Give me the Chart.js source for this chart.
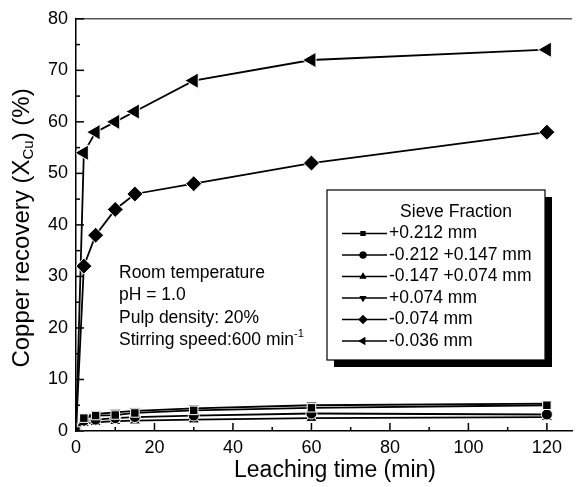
<!DOCTYPE html>
<html>
<head>
<meta charset="utf-8">
<script src="https://cdn.jsdelivr.net/npm/chart.js@4/dist/chart.umd.min.js"></script>
<style>
  html, body { margin: 0; padding: 0; background: #fff; }
  #wrap { width: 582px; height: 487px; }
</style>
</head>
<body>
<div id="wrap"><canvas id="chart" width="582" height="487"></canvas></div>
<script>
// 浸出时间 (min)
const times = [0, 2, 5, 10, 15, 30, 60, 120];

// 各粒级铜回收率 (%)
const labels = ["+0.212 mm", "-0.212 +0.147 mm", "-0.147 +0.074 mm", "+0.074 mm", "-0.074 mm", "-0.036 mm"];
const rec212 = [0, 2.5, 3.0, 3.1, 3.5, 4.0, 4.5, 5.0];
const rec212_147 = [0, 2.0, 2.2, 2.5, 2.7, 3.0, 3.4, 3.2];
const rec147_074 = [0, 1.5, 1.7, 1.9, 2.0, 2.2, 2.5, 2.7];
const rec074plus = [0, 2.8, 3.3, 3.6, 3.9, 4.4, 5.0, 5.3];
const rec074minus = [0, 32, 38, 43, 46, 48, 52, 58];
const rec036 = [0, 54, 58, 60, 62, 68, 72, 74];

const xTicks = [0, 20, 40, 60, 80, 100, 120];
const yTicks = [0, 10, 20, 30, 40, 50, 60, 70, 80];

const notes = ["Room temperature", "pH = 1.0", "Pulp density: 20%", "Stirring speed:600 min"];

const styles = [
    { pointStyle: 'rect', rotation: 0, radius: 6, legendRadius: 3.5 },
    { pointStyle: 'circle', rotation: 0, radius: 5.5, legendRadius: 3.5 },
    { pointStyle: 'triangle', rotation: 0, radius: 6.5, legendRadius: 4 },
    { pointStyle: 'triangle', rotation: 180, radius: 6.5, legendRadius: 4 },
    { pointStyle: 'rectRot', rotation: 0, radius: 8, legendRadius: 4.5 },
    { pointStyle: 'triangle', rotation: 270, radius: 9, legendRadius: 4.5 }
];
const series = [rec212, rec212_147, rec147_074, rec074plus, rec074minus, rec036];

const FONT = "'Liberation Sans', Arial, sans-serif";

const datasets = series.map((vals, i) => ({
    label: labels[i],
    data: times.map((t, j) => ({ x: t, y: vals[j] })),
    borderColor: '#000',
    backgroundColor: '#000',
    borderWidth: 1.8,
    pointStyle: styles[i].pointStyle,
    rotation: styles[i].rotation,
    pointRadius: styles[i].radius,
    pointBorderColor: '#fff',
    pointBorderWidth: 1,
    pointBackgroundColor: '#000',
    tension: 0
}));

// 画刻度、上边框、图例和注释
const decor = {
    id: 'decor',
    afterDraw(chart) {
        const ctx = chart.ctx;
        const xs = chart.scales.x, ys = chart.scales.y;
        const area = chart.chartArea;
        ctx.save();
        ctx.lineWidth = 1.5;
        // 上边框
        ctx.beginPath();
        ctx.moveTo(area.left, area.top);
        ctx.lineTo(area.right, area.top);
        ctx.strokeStyle = '#555';
        ctx.stroke();
        ctx.strokeStyle = '#000';
        // x 刻度 (向内)
        for (let v = 0; v <= 120; v += 10) {
            const px = xs.getPixelForValue(v);
            const len = v % 20 === 0 ? 8 : 4;
            ctx.beginPath();
            ctx.moveTo(px, area.bottom);
            ctx.lineTo(px, area.bottom - len);
            ctx.stroke();
        }
        // y 刻度
        for (let v = 0; v <= 80; v += 5) {
            const py = ys.getPixelForValue(v);
            const len = v % 10 === 0 ? 8 : 4;
            ctx.beginPath();
            ctx.moveTo(area.left, py);
            ctx.lineTo(area.left + len, py);
            ctx.stroke();
        }

        // 轴标题
        ctx.fillStyle = '#000';
        ctx.font = '23px ' + FONT;
        ctx.textAlign = 'center';
        ctx.textBaseline = 'middle';
        ctx.fillText('Leaching time (min)', 335, 471);

        ctx.save();
        ctx.translate(22, 0);
        ctx.rotate(-Math.PI / 2);
        const p1 = 'Copper recovery (X', p2 = 'Cu', p3 = ') (%)';
        ctx.font = '24px ' + FONT;
        const w1 = ctx.measureText(p1).width, w3 = ctx.measureText(p3).width;
        ctx.font = '15px ' + FONT;
        const w2 = ctx.measureText(p2).width;
        let sx = -228 - (w1 + w2 + w3) / 2;
        ctx.textAlign = 'left';
        ctx.font = '24px ' + FONT;
        ctx.fillText(p1, sx, 0);
        ctx.font = '15px ' + FONT;
        ctx.fillText(p2, sx + w1, 7);
        ctx.font = '24px ' + FONT;
        ctx.fillText(p3, sx + w1 + w2, 0);
        ctx.restore();

        // 实验条件注释
        ctx.font = '17.5px ' + FONT;
        ctx.textAlign = 'left';
        notes.forEach((s, i) => ctx.fillText(s, 119, 273 + i * 22.5));
        const wn = ctx.measureText(notes[3]).width;
        ctx.font = '11px ' + FONT;
        ctx.fillText('-1', 119 + wn, 334);

        // 图例框
        const bx = 327, by = 190, bw = 218, bh = 170;
        ctx.fillStyle = '#000';
        ctx.fillRect(bx + 7, by + bh, bw, 7);
        ctx.fillRect(bx + bw, by + 7, 7, bh);
        ctx.fillStyle = '#fff';
        ctx.fillRect(bx, by, bw, bh);
        ctx.lineWidth = 1.2;
        ctx.strokeStyle = '#000';
        ctx.strokeRect(bx, by, bw, bh);
        ctx.fillStyle = '#000';
        ctx.font = '17.5px ' + FONT;
        ctx.textAlign = 'center';
        ctx.fillText('Sieve Fraction', 456, 212);
        ctx.textAlign = 'left';
        labels.forEach((lab, i) => {
            const y = 233.5 + i * 21.5;
            ctx.lineWidth = 1.6;
            ctx.beginPath();
            ctx.moveTo(342, y);
            ctx.lineTo(387, y);
            ctx.stroke();
            Chart.helpers.drawPoint(ctx, {
                pointStyle: styles[i].pointStyle,
                rotation: styles[i].rotation,
                radius: styles[i].legendRadius,
                borderWidth: 0
            }, 363, y);
            ctx.fillStyle = '#000';
            ctx.fill();
            ctx.fillText(lab, 389, y);
        });
        ctx.restore();
    }
};

new Chart(document.getElementById('chart').getContext('2d'), {
    type: 'line',
    data: { datasets: datasets },
    options: {
        responsive: false,
        animation: false,
        layout: { padding: { top: 18, right: 4, left: 0, bottom: 0 } },
        plugins: { legend: { display: false }, tooltip: { enabled: false } },
        scales: {
            x: {
                type: 'linear',
                min: 0, max: 126.4,
                afterFit: s => { s.height = 56; },
                afterBuildTicks: s => { s.ticks = xTicks.map(v => ({ value: v })); },
                grid: { display: false, drawTicks: false },
                border: { color: '#000', width: 1.5 },
                ticks: { color: '#000', font: { family: FONT, size: 18 }, padding: 6, maxRotation: 0 }
            },
            y: {
                min: 0, max: 80,
                afterFit: s => { s.width = 76; },
                afterBuildTicks: s => { s.ticks = yTicks.map(v => ({ value: v })); },
                grid: { display: false, drawTicks: false },
                border: { color: '#000', width: 1.5 },
                ticks: { color: '#000', font: { family: FONT, size: 18 }, padding: 8 }
            }
        }
    },
    plugins: [decor]
});
</script>
</body>
</html>
